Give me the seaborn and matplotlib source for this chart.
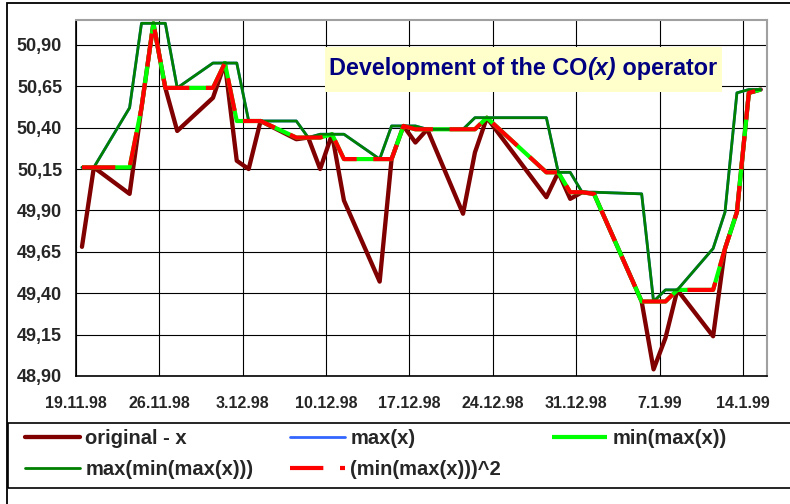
import matplotlib
matplotlib.use("Agg")
import matplotlib.pyplot as plt
import matplotlib.dates as mdates
from matplotlib.patches import Rectangle
from matplotlib.offsetbox import TextArea, HPacker, AnchoredOffsetbox
import seaborn as sns
import pandas as pd

# ---------------- data ----------------
dates = ["1998-11-19", "1998-11-20", "1998-11-23", "1998-11-24", "1998-11-25",
         "1998-11-26", "1998-11-27", "1998-11-30", "1998-12-01", "1998-12-02",
         "1998-12-03", "1998-12-04", "1998-12-07", "1998-12-08", "1998-12-09",
         "1998-12-10", "1998-12-11", "1998-12-14", "1998-12-15", "1998-12-16",
         "1998-12-17", "1998-12-18", "1998-12-21", "1998-12-22", "1998-12-23",
         "1998-12-28", "1998-12-29", "1998-12-30", "1998-12-31", "1999-01-01",
         "1999-01-05", "1999-01-06", "1999-01-07", "1999-01-08", "1999-01-11",
         "1999-01-12", "1999-01-13", "1999-01-14", "1999-01-15"]

original = [49.68, 50.16, 50.00, 50.52, 51.03, 50.64, 50.38, 50.58, 50.79, 50.20,
            50.15, 50.44, 50.33, 50.34, 50.15, 50.36, 49.96, 49.47, 50.21, 50.41,
            50.31, 50.39, 49.88, 50.25, 50.46, 49.98, 50.13, 49.97, 50.01, 50.00,
            49.35, 48.94, 49.13, 49.42, 49.14, 49.67, 49.89, 50.61, 50.63]

max_x = [50.16, 50.16, 50.52, 51.03, 51.03, 51.03, 50.64, 50.79, 50.79, 50.79,
         50.44, 50.44, 50.44, 50.34, 50.36, 50.36, 50.36, 50.21, 50.41, 50.41,
         50.41, 50.39, 50.39, 50.46, 50.46, 50.46, 50.13, 50.13, 50.01, 50.01,
         50.00, 49.35, 49.42, 49.42, 49.67, 49.89, 50.61, 50.63, 50.63]

min_max_x = [50.16, 50.16, 50.16, 50.52, 51.03, 50.64, 50.64, 50.64, 50.79, 50.44,
             50.44, 50.44, 50.34, 50.34, 50.34, 50.36, 50.21, 50.21, 50.21, 50.41,
             50.39, 50.39, 50.39, 50.39, 50.46, 50.13, 50.13, 50.01, 50.01, 50.00,
             49.35, 49.35, 49.35, 49.42, 49.42, 49.67, 49.89, 50.61, 50.63]

max_min_max_x = [50.16, 50.16, 50.52, 51.03, 51.03, 51.03, 50.64, 50.79, 50.79, 50.79,
                 50.44, 50.44, 50.44, 50.34, 50.36, 50.36, 50.36, 50.21, 50.41, 50.41,
                 50.41, 50.39, 50.39, 50.46, 50.46, 50.46, 50.13, 50.13, 50.01, 50.01,
                 50.00, 49.35, 49.42, 49.42, 49.67, 49.89, 50.61, 50.63, 50.63]

min_max_sq = [50.16, 50.16, 50.16, 50.52, 51.03, 50.64, 50.64, 50.64, 50.79, 50.44,
              50.44, 50.44, 50.34, 50.34, 50.34, 50.36, 50.21, 50.21, 50.21, 50.41,
              50.39, 50.39, 50.39, 50.39, 50.46, 50.13, 50.13, 50.01, 50.01, 50.00,
              49.35, 49.35, 49.35, 49.42, 49.42, 49.67, 49.89, 50.61, 50.63]

series_labels = ["original - x", "max(x)", "min(max(x))",
                 "max(min(max(x)))", "(min(max(x)))^2"]

y_ticks = [48.90, 49.15, 49.40, 49.65, 49.90, 50.15, 50.40, 50.65, 50.90]
x_tick_dates = ["1998-11-19", "1998-11-26", "1998-12-03", "1998-12-10",
                "1998-12-17", "1998-12-24", "1998-12-31", "1999-01-07", "1999-01-14"]
x_range = ["1998-11-19", "1999-01-16"]
y_range = [48.90, 51.05]

title_parts = ["Development of the CO", "(x)", " operator"]

# ---------------- styling ----------------
sns.set_style("white")
plt.rcParams["font.family"] = ["Liberation Sans", "DejaVu Sans"]

W, H = 790, 504
fig = plt.figure(figsize=(W / 100, H / 100), dpi=100)
fig.patch.set_facecolor("white")

ax_l, ax_r, ax_t, ax_b = 76, 766.7, 20, 376
ax = fig.add_axes([ax_l / W, 1 - ax_b / H, (ax_r - ax_l) / W, (ax_b - ax_t) / H])

df = pd.DataFrame({
    "date": pd.to_datetime(dates),
    "original": original,
    "max_x": max_x,
    "min_max_x": min_max_x,
    "max_min_max_x": max_min_max_x,
    "min_max_sq": min_max_sq,
})
# Excel date axis places each day's point in the middle of its day slot
df["x"] = mdates.date2num(df["date"]) + 0.5

common = dict(data=df, x="x", ax=ax, estimator=None, sort=False, errorbar=None)
sns.lineplot(y="original", color="#800000", linewidth=3.1, label=series_labels[0],
             solid_capstyle="round", solid_joinstyle="round", **common)
sns.lineplot(y="max_x", color="#3366FF", linewidth=2.0, label=series_labels[1],
             solid_capstyle="round", solid_joinstyle="round", **common)
sns.lineplot(y="min_max_x", color="#00FF00", linewidth=3.0, label=series_labels[2],
             solid_capstyle="butt", solid_joinstyle="round", **common)
sns.lineplot(y="max_min_max_x", color="#008000", linewidth=2.0, label=series_labels[3],
             solid_capstyle="round", solid_joinstyle="round", **common)
sns.lineplot(y="min_max_sq", color="#FF0000", linewidth=3.0, label=series_labels[4],
             linestyle=(0, (8, 4)), dash_capstyle="butt", dash_joinstyle="round",
             **common)
if ax.get_legend() is not None:
    ax.get_legend().remove()

# axes limits / ticks
ax.set_xlim(mdates.date2num(pd.to_datetime(x_range[0])),
            mdates.date2num(pd.to_datetime(x_range[1])))
ax.set_ylim(*y_range)
tick_dt = pd.to_datetime(x_tick_dates)
ax.set_xticks(mdates.date2num(tick_dt))
ax.set_xticklabels([f"{d.day}.{d.month}.{d:%y}" for d in tick_dt],
                   fontsize=11.5, fontweight="bold")
ax.set_yticks(y_ticks)
ax.set_yticklabels([f"{v:.2f}".replace(".", ",") for v in y_ticks],
                   fontsize=13, fontweight="bold")
ax.set_xlabel("")
ax.set_ylabel("")

ax.grid(True, color="black", linewidth=0.8)
ax.set_axisbelow(True)
ax.tick_params(axis="y", direction="out", length=6, width=1, color="black", pad=4)
ax.tick_params(axis="x", direction="out", length=4.5, width=1, color="black", pad=10)
for side in ["left", "bottom"]:
    ax.spines[side].set_color("black")
    ax.spines[side].set_linewidth(1.2)
for side in ["top", "right"]:
    ax.spines[side].set_color("#a0a0a0")
    ax.spines[side].set_linewidth(1.5)

# ---------------- title box ----------------
box = Rectangle((325 / W, 1 - 92 / H), 397 / W, 45 / H, transform=fig.transFigure,
                facecolor="#FFFFCC", edgecolor="none", zorder=3)
fig.add_artist(box)
tprops = dict(color="#000080", fontweight="bold", fontsize=16.8)
parts = [TextArea(title_parts[0], textprops=tprops),
         TextArea(title_parts[1], textprops=dict(tprops, style="italic")),
         TextArea(title_parts[2], textprops=tprops)]
hp = HPacker(children=parts, align="baseline", pad=0, sep=0)
anch = AnchoredOffsetbox(loc="center", child=hp, pad=0, borderpad=0, frameon=False,
                         bbox_to_anchor=(523 / W, 1 - 69 / H),
                         bbox_transform=fig.transFigure)
anch.set_zorder(4)
fig.add_artist(anch)

# ---------------- borders ----------------
outer = Rectangle((7 / W, -0.2), 2.0, 1.2 - 3 / H, transform=fig.transFigure,
                  fill=False, edgecolor="black", linewidth=1.3, zorder=5)
fig.add_artist(outer)
legbox = Rectangle((8 / W, 1 - 488 / H), 2.0, 65 / H, transform=fig.transFigure,
                   fill=False, edgecolor="black", linewidth=1.2, zorder=5)
fig.add_artist(legbox)

# ---------------- legend (three equal-width columns) ----------------
lines = ax.get_lines()
h_orig, h_max, h_minmax, h_maxminmax, h_sq = lines[:5]
leg_font = dict(size=14.5, weight="bold")
leg_kw = dict(loc="upper left", frameon=False, prop=leg_font, borderpad=0,
              borderaxespad=0, handlelength=2.75, handletextpad=0.25,
              labelspacing=0.6, bbox_transform=fig.transFigure)
top_y = 1 - 429 / H
fig.legend([h_orig, h_maxminmax], [series_labels[0], series_labels[3]],
           bbox_to_anchor=(25 / W, top_y), **leg_kw)
fig.legend([h_max, h_sq], [series_labels[1], series_labels[4]],
           bbox_to_anchor=(290 / W, top_y), **leg_kw)
fig.legend([h_minmax], [series_labels[2]],
           bbox_to_anchor=(552 / W, top_y), **leg_kw)

fig.savefig("out.png", dpi=100)
